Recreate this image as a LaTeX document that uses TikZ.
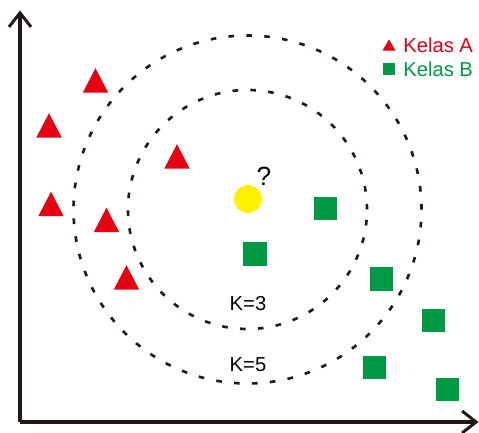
\documentclass[tikz,border=0pt]{standalone}
\usepackage{fontspec}
\setmainfont{Liberation Sans}
\usetikzlibrary{arrows.meta}
\definecolor{kelasA}{RGB}{230,0,18}
\definecolor{kelasB}{RGB}{0,153,68}
\definecolor{query}{RGB}{255,241,0}
\definecolor{axis}{RGB}{35,24,21}
\begin{document}
\begin{tikzpicture}[
    axisline/.style={draw=axis, line width=1.9pt, -{Straight Barb[length=0.28cm, width=0.44cm, line width=1.7pt]}},
    kring/.style={draw=axis, line width=1.5pt, dash pattern=on 3.2pt off 7pt},
    label/.style={inner sep=0pt, font=\fontsize{11.5}{13}\selectfont}
  ]
                \useasboundingbox (0, 0) rectangle (9.58, 8.66);
                \path (0.40, 0.22) coordinate (O);
                \path (0.40, 8.45) coordinate (Ytop);
                \path (9.57, 0.22) coordinate (Xend);
                \path (4.95, 4.47) coordinate (C);
                \path (4.96, 4.68) coordinate (Q);
                % kelas A
                \path (1.91, 7.05) coordinate (a1);
                \path (0.98, 6.15) coordinate (a2);
                \path (3.54, 5.53) coordinate (a3);
                \path (1.02, 4.58) coordinate (a4);
                \path (2.13, 4.26) coordinate (a5);
                \path (2.53, 3.11) coordinate (a6);
                % kelas B
                \path (6.51, 4.49) coordinate (b1);
                \path (5.10, 3.58) coordinate (b2);
                \path (7.63, 3.08) coordinate (b3);
                \path (8.67, 2.25) coordinate (b4);
                \path (7.49, 1.31) coordinate (b5);
                \path (8.95, 0.87) coordinate (b6);
                \path (7.78, 7.76) coordinate (legA);
                \path (7.78, 7.28) coordinate (legB);
                \draw[axisline] (O) -- (Ytop);
                \draw[axisline] (O) -- (Xend);
                \draw[kring] (C) circle (2.39);
                \draw[kring] (C) circle (3.48);
                \foreach \p in {a1, a2, a3, a4, a5, a6}
                    \fill[kelasA] (\p) +(-0.255, -0.245) -- +(0.255, -0.245) -- +(0, 0.245) -- cycle;
                \foreach \p in {b1, b2, b3, b4, b5, b6}
                    \fill[kelasB] (\p) +(-0.233, -0.233) rectangle +(0.233, 0.233);
                \fill[query] (Q) circle (0.28);
                \node[label, font=\fontsize{15}{17}\selectfont] (tanya) at (5.28, 5.14) {?};
                \node[label] (k3) at (4.96, 2.58) {K=3};
                \node[label] (k5) at (4.96, 1.36) {K=5};
                \fill[kelasA] (legA) +(-0.13, -0.113) -- +(0.13, -0.113) -- +(0, 0.113) -- cycle;
                \fill[kelasB] (legB) +(-0.117, -0.117) rectangle +(0.117, 0.117);
                \node[label, kelasA, anchor=west] (teksA) at (8.06, 7.76) {Kelas A};
                \node[label, kelasB, anchor=west] (teksB) at (8.06, 7.28) {Kelas B};
            \end{tikzpicture}
\end{document}
